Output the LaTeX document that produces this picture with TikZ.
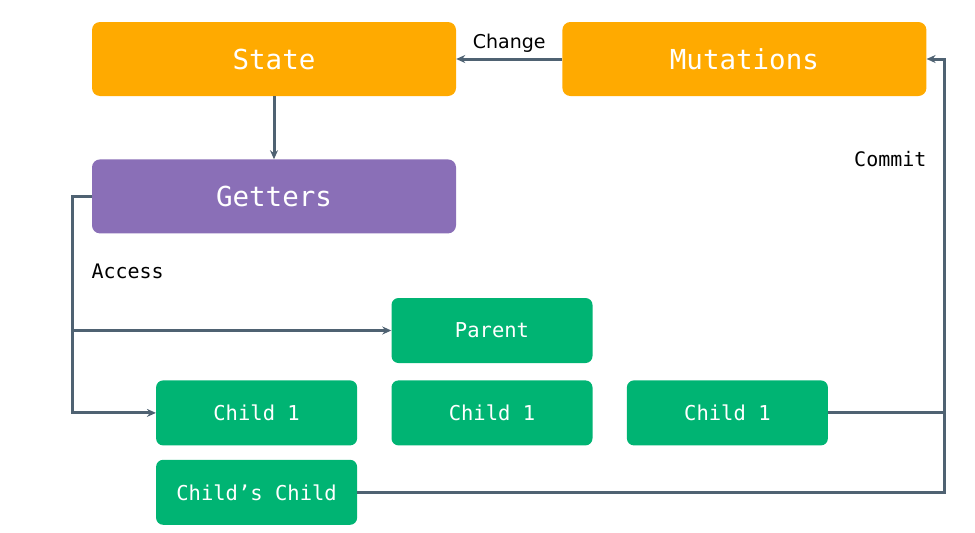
\documentclass[tikz,border=0pt]{standalone}
\usepackage{fontspec}
\setmonofont{DejaVu Sans Mono}
\newfontfamily\labelsans{DejaVu Sans}
\usetikzlibrary{arrows.meta,positioning,calc}
\definecolor{vxorange}{RGB}{255,170,0}
\definecolor{vxpurple}{RGB}{138,111,183}
\definecolor{vxgreen}{RGB}{0,180,115}
\definecolor{vxline}{RGB}{79,98,114}

\begin{document}
\begin{tikzpicture}[x=1pt,y=-1pt,>={Stealth[length=9pt,width=8pt]},
  bigbox/.style={rounded corners=8pt,text=white,minimum width=364pt,
                 minimum height=74pt,font=\ttfamily\fontsize{27.5}{30}\selectfont},
  smallbox/.style={rounded corners=7pt,fill=vxgreen,text=white,minimum width=201pt,
                   minimum height=65pt,font=\ttfamily\fontsize{20.5}{24}\selectfont},
  link/.style={draw=vxline,line width=3pt},
  tag/.style={font=\ttfamily\fontsize{20}{24}\selectfont}]
\useasboundingbox (0,0) rectangle (975,533);
\node[bigbox,fill=vxorange] (state) at (274,59) {State};
\node[bigbox,fill=vxorange,right=106pt of state] (mut) {Mutations};
\node[bigbox,fill=vxpurple,below=63pt of state] (get) {Getters};
\node[smallbox] (parent) at (492,330.5) {Parent};
\node[smallbox,below=17pt of parent] (childB) {Child 1};
\node[smallbox,left=34pt of childB] (childA) {Child 1};
\node[smallbox,right=34pt of childB] (childC) {Child 1};
\node[smallbox,below=14pt of childA] (grand) {Child’s Child};
\coordinate (lft) at ($(get.west)+(-19,0)$);
\coordinate (rgt) at ($(mut.east)+(18,0)$);
\draw[link,->] (mut)--node[above=2pt,text=black,font=\labelsans\fontsize{19}{22}\selectfont]{Change}(state);
\draw[link,->] (state)--(get);
\draw[link,->] (get.west)-|(lft)|-(childA.west);
\draw[link,->] (lft|-parent.west)--(parent.west);
\draw[link,->] (grand.east)-|(rgt)|-(mut.east);
\draw[link] (childC.east)--(rgt|-childC.east);
\node[tag,anchor=west] (access) at (88,271) {Access};
\node[tag,anchor=east] (commit) at (930,159) {Commit};
\end{tikzpicture}
\end{document}
